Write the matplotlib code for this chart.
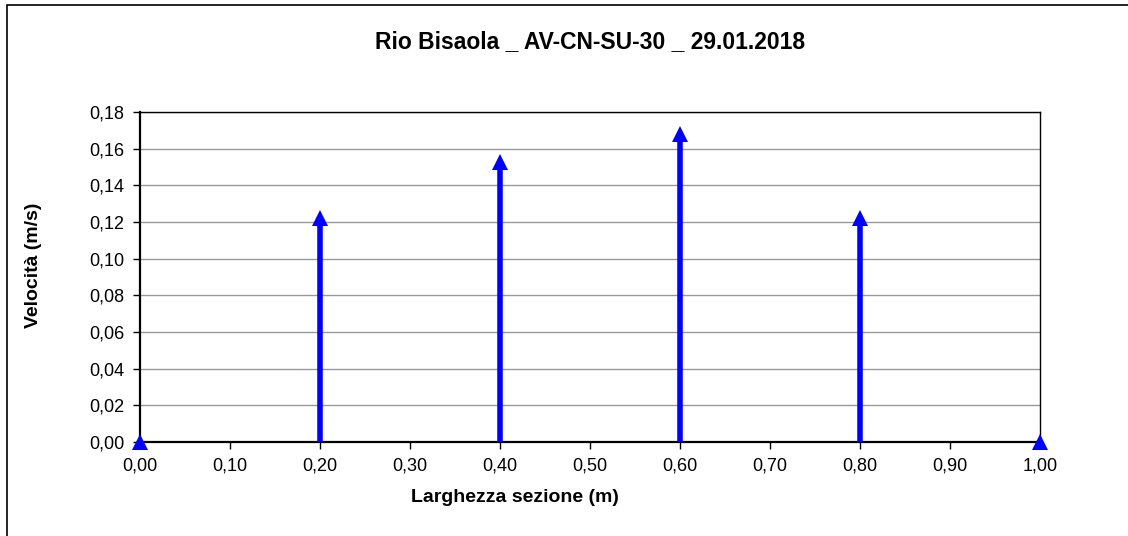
import matplotlib
matplotlib.use("Agg")
import matplotlib.pyplot as plt
from matplotlib.patches import Rectangle
from matplotlib.ticker import FuncFormatter, MultipleLocator

title = "Rio Bisaola _ AV-CN-SU-30 _ 29.01.2018"
xlabel = "Larghezza sezione (m)"
ylabel = "Velocità (m/s)"
positions = [0.0, 0.2, 0.4, 0.6, 0.8, 1.0]
velocities = [0.0, 0.122, 0.153, 0.168, 0.122, 0.0]

plt.rcParams['font.family'] = ['Liberation Sans', 'DejaVu Sans']

fig = plt.figure(figsize=(11.28, 5.36), dpi=100)
fig.patches.append(Rectangle((7/1128, -0.1), 1.2, (536-5)/536 + 0.1,
                             transform=fig.transFigure, fill=False,
                             edgecolor='black', linewidth=1.2, zorder=0))

ax = fig.add_axes([140/1128, 1-442/536, 900/1128, 330/536])
ax.set_xlim(0, 1)
ax.set_ylim(0, 0.18)
ax.yaxis.set_major_locator(MultipleLocator(0.02))
ax.xaxis.set_major_locator(MultipleLocator(0.1))
fmt = FuncFormatter(lambda v, p: f"{v:.2f}".replace('.', ','))
ax.xaxis.set_major_formatter(fmt)
ax.yaxis.set_major_formatter(fmt)
ax.grid(axis='y', color='#999999', linewidth=1.0)
ax.set_axisbelow(True)
for s in ax.spines.values():
    s.set_color('black')
    s.set_linewidth(1.0)
ax.spines['left'].set_linewidth(1.6)
ax.spines['bottom'].set_linewidth(1.6)
ax.tick_params(direction='out', length=5, width=1, labelsize=13, colors='black')
ax.tick_params(axis='x', pad=6)
ax.tick_params(axis='y', pad=6)

for x, v in zip(positions, velocities):
    ax.plot([x, x], [0, v], color='#0000FF', linewidth=4, solid_capstyle='butt',
            clip_on=False, zorder=3)
    ax.plot([x], [v], marker='^', markersize=11, color='#0000FF', clip_on=False,
            zorder=4, markeredgewidth=0)

fig.text(590/1128, 1-42/536, title, ha='center', va='center', fontsize=16.5, fontweight='bold')
fig.text(515/1128, 1-497/536, xlabel, ha='center', va='center', fontsize=14, fontweight='bold')
fig.text(33/1128, 1-265/536, ylabel, ha='center', va='center', fontsize=14,
         fontweight='bold', rotation=90)

fig.savefig('out.png', dpi=100)
